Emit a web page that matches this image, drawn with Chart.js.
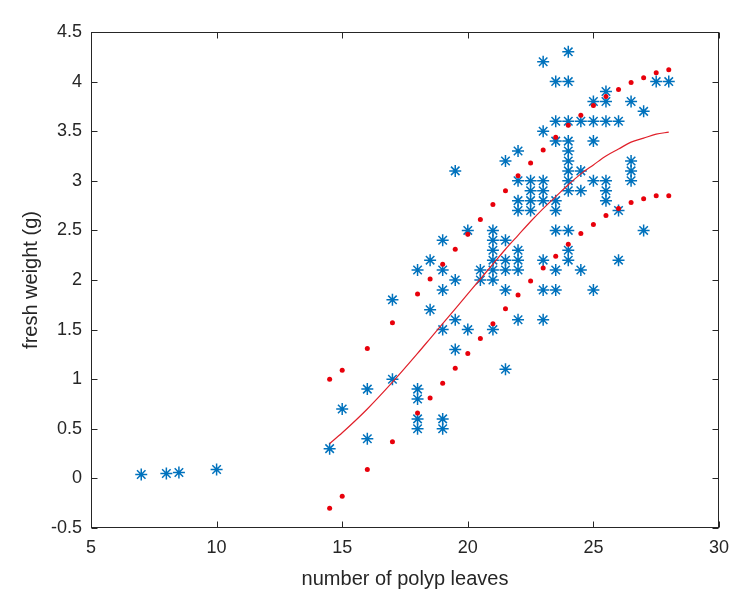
<!DOCTYPE html>
<html>
<head>
<meta charset="utf-8">
<script src="https://cdn.jsdelivr.net/npm/chart.js@4"></script>
<style>
  body { margin: 0; background: #fff; }
  canvas { display: block; }
</style>
</head>
<body>
<canvas id="myChart" width="752" height="607"></canvas>
<script>
// measured samples (stars)
const starX = [7, 8, 8.5, 10, 14.5, 15, 16, 16, 17, 17,
    18, 18, 18, 18, 18, 18.5, 18.5,
    19, 19, 19, 19, 19, 19, 19.5, 19.5, 19.5, 19.5, 20, 20, 20.5, 20.5,
    21, 21, 21, 21, 21, 21, 21, 21.5, 21.5, 21.5, 21.5, 21.5, 21.5,
    22, 22, 22, 22, 22, 22, 22, 22, 22.5, 22.5, 22.5, 22.5,
    23, 23, 23, 23, 23, 23, 23, 23, 23.5, 23.5, 23.5, 23.5, 23.5, 23.5, 23.5, 23.5,
    24, 24, 24, 24, 24, 24, 24, 24, 24, 24, 24, 24, 24.5, 24.5, 24.5, 24.5,
    25, 25, 25, 25, 25, 25.5, 25.5, 25.5, 25.5, 25.5, 25.5, 26, 26, 26,
    26.5, 26.5, 26.5, 26.5, 27, 27, 27.5, 28];
const starY = [0.04, 0.05, 0.06, 0.09, 0.3, 0.7, 0.9, 0.4, 1.0, 1.8,
    2.1, 0.9, 0.8, 0.6, 0.5, 2.2, 1.7,
    2.4, 2.1, 1.9, 1.5, 0.6, 0.5, 3.1, 2.0, 1.6, 1.3, 2.5, 1.5, 2.1, 2.0,
    2.5, 2.4, 2.3, 2.2, 2.1, 2.0, 1.5, 3.2, 2.4, 2.2, 2.1, 1.9, 1.1,
    3.3, 3.0, 2.8, 2.7, 2.3, 2.2, 2.1, 1.6, 3.0, 2.9, 2.8, 2.7,
    4.2, 3.5, 3.0, 2.9, 2.8, 2.2, 1.9, 1.6, 4.0, 3.6, 3.4, 2.8, 2.7, 2.5, 2.1, 1.9,
    4.3, 4.0, 3.6, 3.4, 3.3, 3.2, 3.1, 3.0, 2.9, 2.5, 2.3, 2.2, 3.6, 3.1, 2.9, 2.1,
    3.8, 3.6, 3.4, 3.0, 1.9, 3.9, 3.8, 3.6, 3.0, 2.9, 2.8, 3.6, 2.7, 2.2,
    3.8, 3.2, 3.1, 3.0, 3.7, 2.5, 4.0, 4.0];

// fitted curve and its bounds
const bandX  = [14.5, 15, 16, 17, 18, 18.5, 19, 19.5, 20, 20.5, 21, 21.5, 22, 22.5, 23, 23.5, 24, 24.5, 25, 25.5, 26, 26.5, 27, 27.5, 28];
const upperY = [1.00, 1.09, 1.31, 1.57, 1.86, 2.01, 2.16, 2.31, 2.46, 2.61, 2.76, 2.90, 3.05, 3.18, 3.31, 3.44, 3.56, 3.66, 3.76, 3.85, 3.92, 3.99, 4.04, 4.09, 4.12];
const lowerY = [-0.30, -0.18, 0.09, 0.37, 0.66, 0.81, 0.96, 1.11, 1.26, 1.41, 1.56, 1.71, 1.85, 1.99, 2.12, 2.24, 2.36, 2.47, 2.56, 2.65, 2.72, 2.78, 2.82, 2.85, 2.85];
const fitY   = [0.35, 0.46, 0.70, 0.97, 1.26, 1.41, 1.56, 1.71, 1.86, 2.01, 2.16, 2.31, 2.45, 2.59, 2.72, 2.84, 2.96, 3.07, 3.16, 3.25, 3.32, 3.39, 3.43, 3.47, 3.49];

const xTicks = [5, 10, 15, 20, 25, 30];

const axisColor = '#262626';
const fontFamily = '"Liberation Sans", Arial, Helvetica, sans-serif';

const toPoints = (xs, ys) => xs.map((x, i) => ({ x: x, y: ys[i] }));

// MATLAB style box with inward ticks on all sides
const boxPlugin = {
    id: 'box',
    afterDraw(chart) {
        const { ctx, chartArea: a, scales } = chart;
        const L = Math.round(a.left) + 0.5, R = Math.round(a.right) - 0.5;
        const T = Math.round(a.top) + 0.5, B = Math.round(a.bottom) - 0.5;
        const len = 6;
        ctx.save();
        ctx.strokeStyle = axisColor;
        ctx.lineWidth = 1;
        ctx.strokeRect(L, T, R - L, B - T);
        ctx.beginPath();
        scales.x.ticks.forEach(t => {
            const px = Math.round(scales.x.getPixelForValue(t.value)) + 0.5;
            ctx.moveTo(px, B); ctx.lineTo(px, B - len);
            ctx.moveTo(px, T); ctx.lineTo(px, T + len);
        });
        scales.y.ticks.forEach(t => {
            const py = Math.round(scales.y.getPixelForValue(t.value)) + 0.5;
            ctx.moveTo(L, py); ctx.lineTo(L + len, py);
            ctx.moveTo(R, py); ctx.lineTo(R - len, py);
        });
        ctx.stroke();
        ctx.restore();
    }
};

const ctx = document.getElementById('myChart').getContext('2d');
new Chart(ctx, {
    type: 'scatter',
    data: {
        datasets: [{
            label: 'upper',
            data: toPoints(bandX, upperY),
            pointStyle: 'circle',
            pointRadius: 2.5,
            pointBorderWidth: 0,
            backgroundColor: '#e8000b',
            borderColor: '#e8000b'
        }, {
            label: 'lower',
            data: toPoints(bandX, lowerY),
            pointStyle: 'circle',
            pointRadius: 2.5,
            pointBorderWidth: 0,
            backgroundColor: '#e8000b',
            borderColor: '#e8000b'
        }, {
            label: 'fit',
            data: toPoints(bandX, fitY),
            showLine: true,
            pointRadius: 0,
            borderColor: '#e0202a',
            borderWidth: 1.2,
            cubicInterpolationMode: 'monotone'
        }, {
            label: 'data',
            data: toPoints(starX, starY),
            pointStyle: 'star',
            pointRadius: 6,
            pointBorderWidth: 1.5,
            borderColor: '#0072BD',
            backgroundColor: '#0072BD'
        }]
    },
    options: {
        responsive: false,
        animation: false,
        layout: { padding: { top: 32, right: 33, left: 0, bottom: 0 } },
        plugins: {
            legend: { display: false },
            tooltip: { enabled: false }
        },
        scales: {
            x: {
                type: 'linear',
                min: 5,
                max: 30,
                afterBuildTicks: s => { s.ticks = xTicks.map(v => ({ value: v })); },
                afterFit: s => { s.height = 79; },
                grid: { display: false, drawTicks: false },
                border: { display: false },
                ticks: {
                    padding: 9,
                    color: axisColor,
                    font: { family: fontFamily, size: 18 },
                    callback: v => String(v)
                },
                title: {
                    display: true,
                    text: 'number of polyp leaves',
                    color: axisColor,
                    font: { family: fontFamily, size: 20 },
                    padding: { top: 0, bottom: 16 }
                }
            },
            y: {
                type: 'linear',
                min: -0.5,
                max: 4.5,
                afterFit: s => { s.width = 91; },
                grid: { display: false, drawTicks: false },
                border: { display: false },
                ticks: {
                    stepSize: 0.5,
                    padding: 9,
                    color: axisColor,
                    font: { family: fontFamily, size: 18 },
                    callback: v => String(Math.round(v * 10) / 10)
                },
                title: {
                    display: true,
                    text: 'fresh weight (g)',
                    color: axisColor,
                    font: { family: fontFamily, size: 20 },
                    padding: { top: 19, bottom: 0 }
                }
            }
        }
    },
    plugins: [boxPlugin]
});
</script>
</body>
</html>
